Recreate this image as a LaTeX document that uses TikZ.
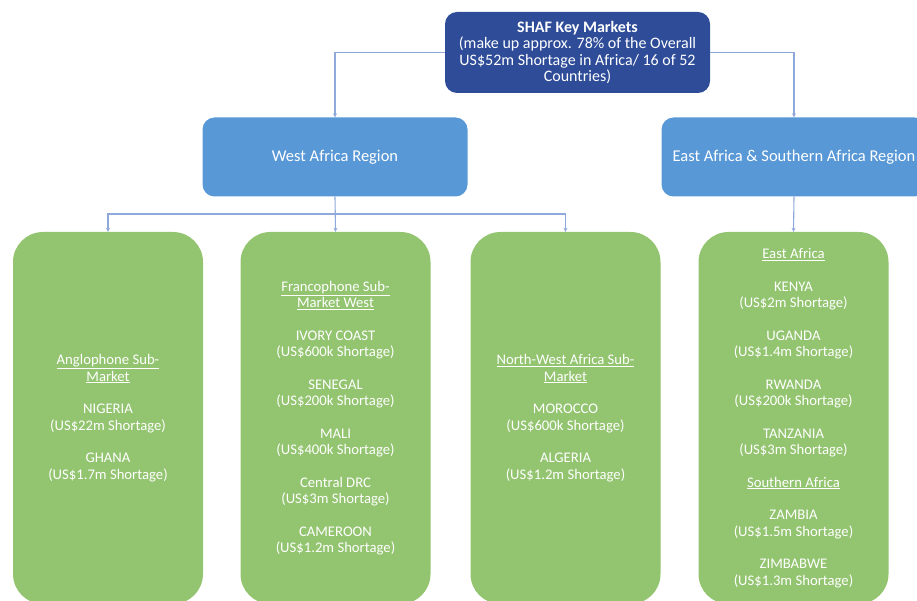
\documentclass[tikz,border=0pt]{standalone}
\usepackage{fontspec}
\setmainfont{Carlito}
\usepackage{tikz}
\usetikzlibrary{arrows.meta,positioning}

\definecolor{darkblue}{RGB}{46,76,152}
\definecolor{regblue}{RGB}{88,152,214}
\definecolor{mktgreen}{RGB}{147,196,112}
\definecolor{linkblue}{RGB}{143,170,218}

\tikzset{
  mainbox/.style={draw=none, fill=darkblue, rounded corners=12pt, minimum width=265pt, minimum height=81pt, align=center, text=white, font=\fontsize{16}{16.5}\selectfont},
  regionbox/.style={draw=none, fill=regblue, rounded corners=12pt, minimum width=265pt, minimum height=79pt, align=center, text=white, font=\fontsize{16.5}{18}\selectfont},
  marketbox/.style={draw=none, fill=mktgreen, rounded corners=30pt, minimum width=190pt, minimum height=372pt, align=center, text=white, font=\fontsize{14.7}{16.5}\selectfont},
  conn/.style={draw=linkblue, line width=1.1pt, -{Stealth[length=4pt,width=4pt]}},
}

\begin{document}
\begin{tikzpicture}[x=1pt,y=-1pt]
\useasboundingbox (0,0) rectangle (917,601);
\node[mainbox] (top) at (577.5,52.5) {\textbf{SHAF Key Markets}\\(make up approx. 78\% of the Overall\\US\$52m Shortage in Africa/ 16 of 52\\Countries)};
\node[regionbox] (west) at (335,157) {West Africa Region};
\node[regionbox] (east) at (794,157) {East Africa \& Southern Africa Region};
\node[marketbox] (anglo) at (108,418) {\underline{Anglophone Sub-}\\\underline{Market}\\[16pt]
  NIGERIA\\(US\$22m Shortage)\\[16pt]
  GHANA\\(US\$1.7m Shortage)};
\node[marketbox] (franco) at (335.5,418) {\underline{Francophone Sub-}\\\underline{Market West}\\[16pt]
  IVORY COAST\\(US\$600k Shortage)\\[16pt]
  SENEGAL\\(US\$200k Shortage)\\[16pt]
  MALI\\(US\$400k Shortage)\\[16pt]
  Central DRC\\(US\$3m Shortage)\\[16pt]
  CAMEROON\\(US\$1.2m Shortage)};
\node[marketbox] (nwafr) at (565.5,418) {\underline{North-West Africa Sub-}\\\underline{Market}\\[16pt]
  MOROCCO\\(US\$600k Shortage)\\[16pt]
  ALGERIA\\(US\$1.2m Shortage)};
\node[marketbox] (eafr) at (793.5,418) {\underline{East Africa}\\[16pt]
  KENYA\\(US\$2m Shortage)\\[16pt]
  UGANDA\\(US\$1.4m Shortage)\\[16pt]
  RWANDA\\(US\$200k Shortage)\\[16pt]
  TANZANIA\\(US\$3m Shortage)\\[16pt]
  \underline{Southern Africa}\\[16pt]
  ZAMBIA\\(US\$1.5m Shortage)\\[16pt]
  ZIMBABWE\\(US\$1.3m Shortage)};
\coordinate (westbar) at (335,214);
% links
\draw[conn] (top.west) -| (west.north);
\draw[conn] (top.east) -| (east.north);
\draw[conn] (west.south) -- (franco.north);
\draw[conn, {Stealth[length=4pt,width=4pt]}-{Stealth[length=4pt,width=4pt]}] (anglo.north) |- (westbar) -| (nwafr.north);
\draw[conn] (east.south) -- (eafr.north);
\end{tikzpicture}
\end{document}
